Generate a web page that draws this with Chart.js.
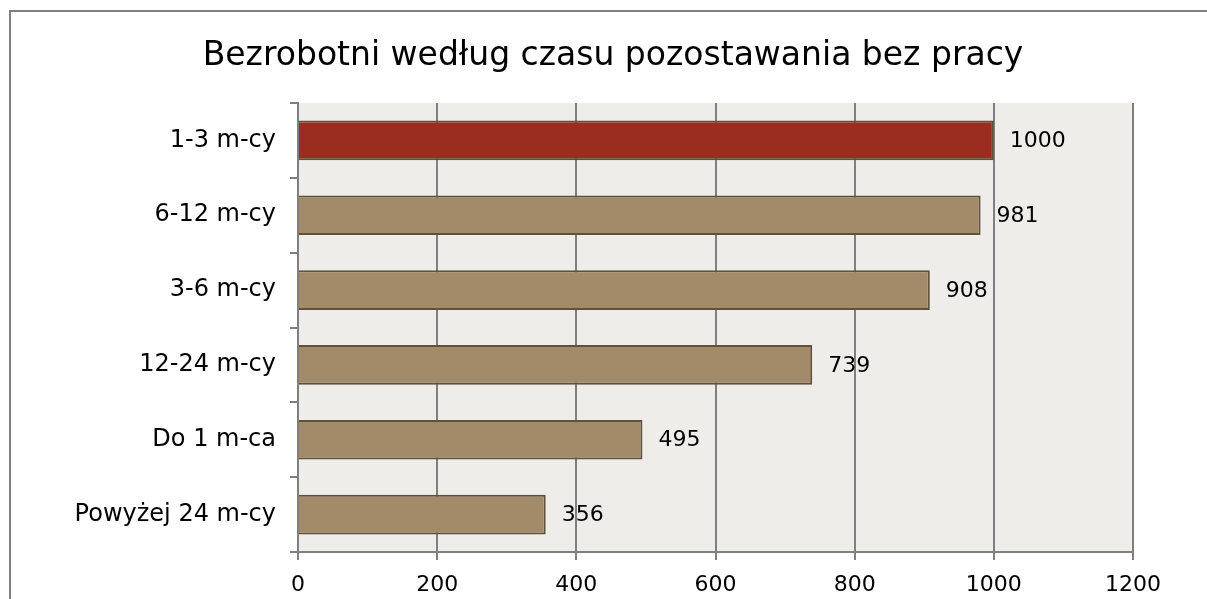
<!DOCTYPE html>
<html>
<head>
<meta charset="utf-8">
<script src="https://cdn.jsdelivr.net/npm/chart.js@4"></script>
<style>
    html, body { margin: 0; padding: 0; background: #ffffff; overflow: hidden; }
    #frame {
        position: absolute; left: 9px; top: 10px; width: 1300px; height: 640px;
        border: 2px solid #7f7f7f; box-sizing: border-box;
    }
    #wrap { position: absolute; left: 0; top: 0; width: 1207px; height: 599px; }
</style>
</head>
<body>
<div id="frame"></div>
<div id="wrap"><canvas id="chartCzas"></canvas></div>
<script>
const categories = ['1-3 m-cy', '6-12 m-cy', '3-6 m-cy', '12-24 m-cy', 'Do 1 m-ca', 'Powyżej 24 m-cy'];
const values = [1000, 981, 908, 739, 495, 356];
const xTicks = [0, 200, 400, 600, 800, 1000, 1200];
const chartTitle = 'Bezrobotni według czasu pozostawania bez pracy';

const FONT = "'DejaVu Sans', sans-serif";
const GRID = '#7f7f7f';

// tło obszaru wykresu
const plotBackground = {
    id: 'plotBackground',
    beforeDraw: (chart) => {
        const { ctx, chartArea } = chart;
        ctx.save();
        ctx.fillStyle = '#eeede9';
        ctx.fillRect(chartArea.left, chartArea.top, chartArea.right - chartArea.left, chartArea.bottom - chartArea.top);
        ctx.restore();
    }
};

// tytuł wyśrodkowany na całym obrazku
const titleText = {
    id: 'titleText',
    afterDraw: (chart) => {
        const { ctx } = chart;
        ctx.save();
        ctx.font = `33px ${FONT}`;
        ctx.fillStyle = '#000000';
        ctx.textAlign = 'center';
        ctx.textBaseline = 'alphabetic';
        ctx.fillText(chartTitle, 613, 65);
        ctx.restore();
    }
};

const valueLabels = {
    id: 'valueLabels',
    afterDatasetsDraw: (chart) => {
        const { ctx } = chart;
        const meta = chart.getDatasetMeta(0);
        ctx.save();
        ctx.font = `22px ${FONT}`;
        ctx.fillStyle = '#000000';
        ctx.textBaseline = 'middle';
        ctx.textAlign = 'left';
        meta.data.forEach((bar, i) => {
            ctx.fillText(String(values[i]), bar.x + 16, bar.y + 1);
        });
        ctx.restore();
    }
};

const buildChart = () => {
    const canvas = document.getElementById('chartCzas');
    if (!canvas || typeof Chart === 'undefined') return;

    new Chart(canvas.getContext('2d'), {
        type: 'bar',
        data: {
            labels: categories,
            datasets: [{
                data: values,
                backgroundColor: values.map((v, i) => i === 0 ? '#9b2d20' : '#a38b6a'),
                borderColor: '#5f513a',
                borderWidth: 2,
                barPercentage: 1,
                categoryPercentage: 0.53
            }]
        },
        options: {
            indexAxis: 'y',
            responsive: true,
            maintainAspectRatio: false,
            animation: false,
            layout: { padding: { left: 0, right: 74, top: 103, bottom: 0 } },
            scales: {
                x: {
                    min: 0,
                    max: 1200,
                    afterBuildTicks: (scale) => { scale.ticks = xTicks.map((v) => ({ value: v })); },
                    afterFit: (scale) => { scale.height = 47; },
                    grid: { color: GRID, lineWidth: 2, tickLength: 8, tickColor: GRID },
                    border: { color: GRID, width: 2 },
                    ticks: {
                        color: '#000000',
                        padding: 12,
                        font: { family: FONT, size: 22 },
                        callback: (value) => String(value)
                    }
                },
                y: {
                    afterFit: (scale) => { scale.width = 298; },
                    grid: { offset: true, drawOnChartArea: false, tickLength: 8, color: GRID, lineWidth: 2 },
                    border: { color: GRID, width: 2 },
                    ticks: { color: '#000000', padding: 14, font: { family: FONT, size: 24 } }
                }
            },
            plugins: {
                legend: { display: false },
                tooltip: { enabled: false },
                title: { display: false }
            }
        },
        plugins: [plotBackground, valueLabels, titleText]
    });
};

document.addEventListener('DOMContentLoaded', buildChart);
</script>
</body>
</html>
